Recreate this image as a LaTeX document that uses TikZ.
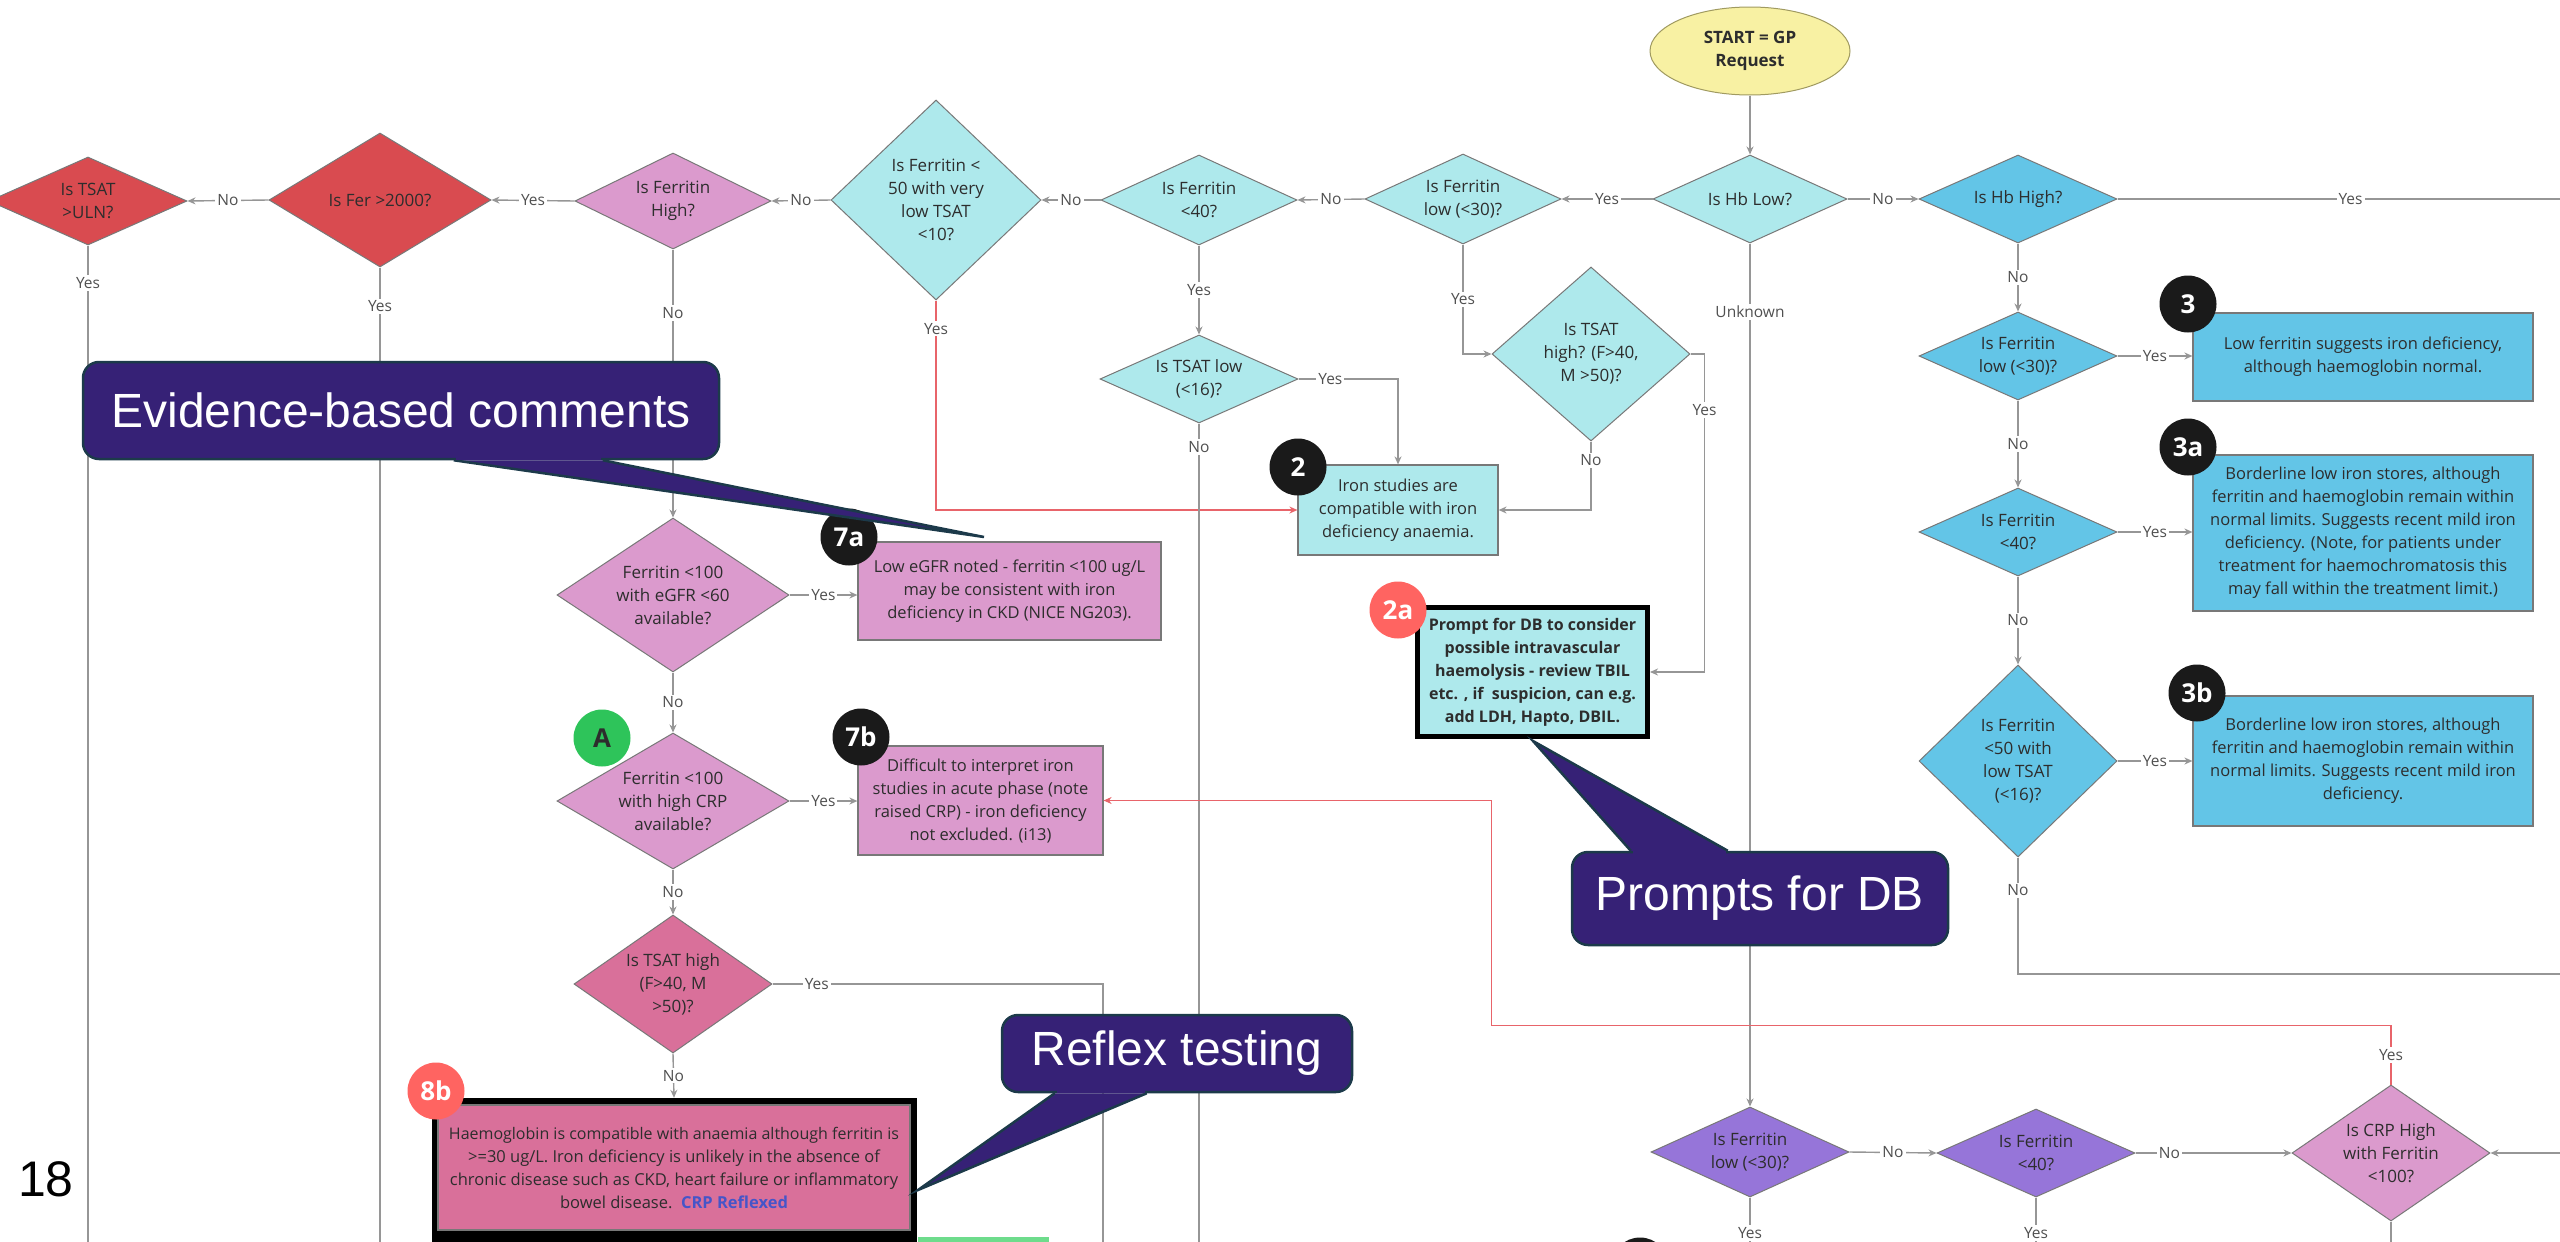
\documentclass[tikz,border=0pt]{standalone}
\usepackage{fontspec}
\setmainfont{Open Sans}
\newfontfamily\calloutfont{Liberation Sans}
\usetikzlibrary{shapes.geometric, arrows.meta, calc}

\definecolor{cyanfill}{RGB}{174,233,236}
\definecolor{bluefill}{RGB}{99,197,231}
\definecolor{pinkfill}{RGB}{219,154,205}
\definecolor{redfill}{RGB}{217,75,80}
\definecolor{rosefill}{RGB}{217,112,154}
\definecolor{purplefill}{RGB}{150,117,217}
\definecolor{yellowfill}{RGB}{248,241,163}
\definecolor{yellowedge}{RGB}{160,154,96}
\definecolor{badgegreen}{RGB}{46,196,90}
\definecolor{badgered}{RGB}{255,100,97}
\definecolor{badgeblack}{RGB}{26,26,26}
\definecolor{calloutfill}{RGB}{54,33,118}
\definecolor{calloutedge}{RGB}{28,58,74}
\definecolor{linegray}{RGB}{150,150,150}
\definecolor{linered}{RGB}{232,100,106}
\definecolor{edgegray}{RGB}{120,120,120}
\definecolor{txtdark}{RGB}{45,45,45}
\definecolor{labelgray}{RGB}{80,80,80}
\definecolor{crpblue}{RGB}{70,85,200}
\definecolor{nextgreen}{RGB}{110,220,140}

\tikzset{
  conn/.style={draw=linegray, line width=1.4pt},
  arr/.style={conn, -{Stealth[length=8pt, width=7pt]}},
  rconn/.style={draw=linered, line width=1.4pt},
  rarr/.style={rconn, -{Stealth[length=8pt, width=7pt]}},
  lbl/.style={fill=white, inner sep=2pt, text=labelgray, font=\fontsize{15.5}{18}\selectfont},
  dec/.style={diamond, draw=edgegray, line width=1pt, inner sep=0pt},
  dtxt/.style={align=center, text=txtdark, font=\fontsize{17}{23}\selectfont, inner sep=0pt},
  infobox/.style={rectangle, draw=edgegray, line width=1.2pt, inner sep=0pt, align=center,
    text=txtdark, font=\fontsize{16.5}{23}\selectfont},
  badge/.style={circle, minimum size=57pt, inner sep=0pt, text=white,
    font=\bfseries\fontsize{26}{26}\selectfont},
  callout/.style={rectangle, rounded corners=16pt, fill=calloutfill, draw=calloutedge,
    line width=2.5pt, text=white, font=\calloutfont\fontsize{48}{52}\selectfont, inner sep=0pt},
  pointer/.style={fill=calloutfill, draw=calloutedge, line width=2.5pt},
}

% decision diamond: name, x, y, half width, half height, fill, text
\newcommand{\decision}[7]{%
  \node[dec, fill=#6, minimum width={2*#4pt}, minimum height={2*#5pt}] (#1) at (#2,#3) {};
  \node[dtxt] (#1-t) at (#1.center) {#7};}
% result box: name, x1, y1, x2, y2, fill, text
\newcommand{\resultbox}[7]{%
  \node[infobox, fill=#6, minimum width={(#4-#2)*1pt}, minimum height={(#5-#3)*1pt}]
    (#1) at ({(#2+#4)/2},{(#3+#5)/2}) {#7};}

\begin{document}
\begin{tikzpicture}[x=1pt, y=-1pt]
\useasboundingbox (0,0) rectangle (2560,1242);
\clip (0,0) rectangle (2560,1242);
\fill[white] (0,0) rectangle (2560,1242);

% ---------- start ----------
\node[ellipse, draw=yellowedge, fill=yellowfill, line width=1pt, minimum width=200pt,
  minimum height=88pt, inner sep=0pt, align=center, text=txtdark,
  font=\bfseries\fontsize{17}{23}\selectfont] (start) at (1750,51) {START = GP\\Request};

% ---------- top row ----------
\decision{tsatuln}{88}{201}{99}{44}{redfill}{Is TSAT\\>ULN?}
\decision{fer2000}{380}{200}{111}{67}{redfill}{Is Fer >2000?}
\decision{ferhigh}{673}{201}{98}{48}{pinkfill}{Is Ferritin\\High?}
\decision{fer50}{936}{200}{105}{100}{cyanfill}{Is Ferritin <\\50 with very\\low TSAT\\<10?}
\decision{fer40}{1199}{200}{98}{45}{cyanfill}{Is Ferritin\\<40?}
\decision{ferlow30}{1463}{199}{98}{45}{cyanfill}{Is Ferritin\\low (<30)?}
\decision{hblow}{1750}{199}{97}{44}{cyanfill}{Is Hb Low?}
\decision{hbhigh}{2018}{199}{99}{44}{bluefill}{Is Hb High?}

% ---------- low Hb branch ----------
\decision{tsatlow}{1199}{379}{99}{44}{cyanfill}{Is TSAT low\\(<16)?}
\decision{tsathigh}{1591}{354}{99}{87}{cyanfill}{Is TSAT\\high? (F>40,\\M >50)?}
\resultbox{box2}{1298}{465}{1498}{555}{cyanfill}{Iron studies are\\compatible with iron\\deficiency anaemia.}
\node[infobox, fill=cyanfill, draw=black, line width=5pt, minimum width=230pt, minimum height=129pt,
  font=\bfseries\fontsize{16}{23}\selectfont] (box2a) at (1532.5,672)
  {Prompt for DB to consider\\possible intravascular\\haemolysis - review TBIL\\etc. , if\ \ suspicion, can e.g.\\add LDH, Hapto, DBIL.};

% ---------- high ferritin branch ----------
\decision{egfr}{673}{595}{116}{77}{pinkfill}{Ferritin <100\\with eGFR <60\\available?}
\resultbox{box7a}{858}{542}{1161}{640}{pinkfill}{Low eGFR noted - ferritin <100 ug/L\\may be consistent with iron\\deficiency in CKD (NICE NG203).}
\decision{crp7b}{673}{801}{116}{68}{pinkfill}{Ferritin <100\\with high CRP\\available?}
\resultbox{box7b}{858}{746}{1103}{855}{pinkfill}{Difficult to interpret iron\\studies in acute phase (note\\raised CRP) - iron deficiency\\not excluded. (i13)}
\decision{tsathigh2}{673}{984}{99}{69}{rosefill}{Is TSAT high\\(F>40, M\\>50)?}
\node[rectangle, fill=black, draw=black, minimum width=484pt, minimum height=164pt, inner sep=0pt]
  (frame8b) at (674,1180) {};
\resultbox{box8b}{438}{1105}{910}{1230}{rosefill}{\fontsize{16}{23}\selectfont Haemoglobin is compatible with anaemia although ferritin is\\>=30 ug/L. Iron deficiency is unlikely in the absence of\\chronic disease such as CKD, heart failure or inflammatory\\bowel disease.\ \ {\color{crpblue}\bfseries CRP Reflexed}}
\node[rectangle, fill=nextgreen, minimum width=131pt, minimum height=20pt, inner sep=0pt]
  (nextbox) at (983.5,1247) {};

% ---------- normal Hb branch ----------
\decision{ferlow30b}{2018}{356}{99}{44}{bluefill}{Is Ferritin\\low (<30)?}
\resultbox{box3}{2193}{313}{2533}{401}{bluefill}{Low ferritin suggests iron deficiency,\\although haemoglobin normal.}
\decision{fer40b}{2018}{532}{99}{44}{bluefill}{Is Ferritin\\<40?}
\resultbox{box3a}{2193}{455}{2533}{611}{bluefill}{Borderline low iron stores, although\\ferritin and haemoglobin remain within\\normal limits. Suggests recent mild iron\\deficiency. (Note, for patients under\\treatment for haemochromatosis this\\may fall within the treatment limit.)}
\decision{fer50b}{2018}{761}{99}{96}{bluefill}{Is Ferritin\\<50 with\\low TSAT\\(<16)?}
\resultbox{box3b}{2193}{696}{2533}{826}{bluefill}{Borderline low iron stores, although\\ferritin and haemoglobin remain within\\normal limits. Suggests recent mild iron\\deficiency.}

% ---------- unknown Hb branch ----------
\decision{fer30p}{1750}{1152}{99}{45}{purplefill}{Is Ferritin\\low (<30)?}
\decision{fer40p}{2036}{1153}{99}{44}{purplefill}{Is Ferritin\\<40?}
\decision{crphigh}{2391}{1153}{99}{68}{pinkfill}{Is CRP High\\with Ferritin\\<100?}

% ---------- free ends running off the sheet ----------
\coordinate (offR1) at (2570,199);
\coordinate (offR2) at (2570,1153);
\coordinate (offR3) at (2570,974);
\coordinate (offA) at (88,1260);
\coordinate (offB) at (380,1260);
\coordinate (offC) at (1103,1260);
\coordinate (offD) at (1199,1260);
\coordinate (offE) at (1750,1262);
\coordinate (offF) at (2036,1262);
\coordinate (offG) at (2391,1262);

% ---------- connectors ----------
\draw[arr] (start.south) -- (hblow.north);
\draw[arr] (hblow.east) -- node[lbl]{No} (hbhigh.west);
\draw[conn] (hbhigh.east) -- node[lbl, pos=0.515]{Yes} (offR1);
\draw[arr] (hblow.west) -- node[lbl]{Yes} (ferlow30.east);
\draw[arr] (ferlow30.west) -- node[lbl]{No} (fer40.east);
\draw[arr] (fer40.west) -- node[lbl]{No} (fer50.east);
\draw[arr] (fer50.west) -- node[lbl]{No} (ferhigh.east);
\draw[arr] (ferhigh.west) -- node[lbl]{Yes} (fer2000.east);
\draw[arr] (fer2000.west) -- node[lbl]{No} (tsatuln.east);
\draw[conn] (tsatuln.south) -- node[lbl, pos=0.037]{Yes} (offA);
\draw[conn] (fer2000.south) -- node[lbl, pos=0.039]{Yes} (offB);

\draw[arr] (ferhigh.south) -- node[lbl, pos=0.237]{No} (egfr.north);
\draw[arr] (egfr.east) -- node[lbl]{Yes} (egfr.east -| box7a.west);
\draw[arr] (egfr.south) -- node[lbl]{No} (crp7b.north);
\draw[arr] (crp7b.east) -- node[lbl]{Yes} (crp7b.east -| box7b.west);
\draw[arr] (crp7b.south) -- node[lbl]{No} (tsathigh2.north);
\draw[conn] (tsathigh2.east) -| node[lbl, pos=0.067]{Yes} (offC);
\draw[arr] (tsathigh2.south) -- node[lbl]{No} (frame8b.north);

\draw[rarr] (fer50.south) |- node[lbl, pos=0.067]{Yes} (box2.west);
\draw[arr] (fer40.south) -- node[lbl]{Yes} (tsatlow.north);
\draw[arr] (tsatlow.east) -| node[lbl, pos=0.16]{Yes} (box2.north);
\draw[conn] (tsatlow.south) -- node[lbl, pos=0.028]{No} (offD);
\draw[arr] (ferlow30.south) |- node[lbl, pos=0.25]{Yes} (tsathigh.west);
\draw[arr] (tsathigh.south) |- node[lbl, pos=0.136]{No} (box2.east);
\draw[arr] (tsathigh.east) -- ++(14,0) |- node[lbl, pos=0.088]{Yes} (box2a.east);

\draw[arr] (hblow.south) -- node[lbl, pos=0.079]{Unknown} (fer30p.north);
\draw[arr] (fer30p.east) -- node[lbl]{No} (fer40p.west);
\draw[arr] (fer40p.east) -- node[lbl, pos=0.217]{No} (crphigh.west);
\draw[conn] (fer30p.south) -- node[lbl, pos=0.55]{Yes} (offE);
\draw[conn] (fer40p.south) -- node[lbl, pos=0.55]{Yes} (offF);
\draw[conn] (crphigh.south) -- (offG);
\draw[arr] (offR2) -- (crphigh.east);
\draw[rarr] (crphigh.north) -- node[lbl]{Yes} ++(0,-59) -| ($(box7b.east)+(388,0)$) -- (box7b.east);

\draw[arr] (hbhigh.south) -- node[lbl]{No} (ferlow30b.north);
\draw[arr] (ferlow30b.east) -- node[lbl]{Yes} (ferlow30b.east -| box3.west);
\draw[arr] (ferlow30b.south) -- node[lbl]{No} (fer40b.north);
\draw[arr] (fer40b.east) -- node[lbl]{Yes} (fer40b.east -| box3a.west);
\draw[arr] (fer40b.south) -- node[lbl]{No} (fer50b.north);
\draw[arr] (fer50b.east) -- node[lbl]{Yes} (fer50b.east -| box3b.west);
\draw[conn] (fer50b.south) |- node[lbl, pos=0.14]{No} (offR3);

% ---------- numbered badges ----------
\node[badge, fill=badgeblack] (b3) at (2188,304) {3};
\node[badge, fill=badgeblack] (b3a) at (2188,447) {3a};
\node[badge, fill=badgeblack] (b3b) at (2197,693) {3b};
\node[badge, fill=badgeblack] (b2) at (1298,467) {2};
\node[badge, fill=badgered] (b2a) at (1398,610) {2a};
\node[badge, fill=badgeblack] (b7a) at (849,537) {7a};
\node[badge, fill=badgeblack] (b7b) at (861,737) {7b};
\node[badge, fill=badgegreen, text=txtdark] (bA) at (602,738) {A};
\node[badge, fill=badgered] (b8b) at (436,1091) {8b};
\node[badge, fill=badgeblack] (bnext) at (1640,1266) {};

% ---------- page number ----------
\node[font=\calloutfont\fontsize{50}{50}\selectfont, inner sep=0pt] (pagenum) at (46,1179) {18};

% ---------- callouts ----------
\node[callout, minimum width=636pt, minimum height=97pt] (evid) at (401,410.5) {Evidence-based comments};
\coordinate (evid-tip) at (984,537);
\path[pointer] ($(evid.south west)+(372,0)$) -- (evid-tip) -- ($(evid.south west)+(521,0)$);
\fill[calloutfill] ($(evid.south west)+(374,-4)$) rectangle ($(evid.south west)+(519,0)$);

\node[callout, minimum width=376pt, minimum height=93pt] (prompts) at (1760,898.5) {Prompts for DB};
\coordinate (prompts-tip) at (1533,741);
\path[pointer] ($(prompts.north west)+(60,0)$) -- (prompts-tip) -- ($(prompts.north west)+(157,0)$);
\fill[calloutfill] ($(prompts.north west)+(62,0)$) rectangle ($(prompts.north west)+(155,4)$);

\node[callout, minimum width=350pt, minimum height=77pt] (reflex) at (1177,1053.5) {Reflex testing};
\coordinate (reflex-tip) at (918,1190);
\path[pointer] ($(reflex.south west)+(54,0)$) -- (reflex-tip) -- ($(reflex.south west)+(146,0)$);
\fill[calloutfill] ($(reflex.south west)+(56,-4)$) rectangle ($(reflex.south west)+(144,0)$);
\end{tikzpicture}
\end{document}
